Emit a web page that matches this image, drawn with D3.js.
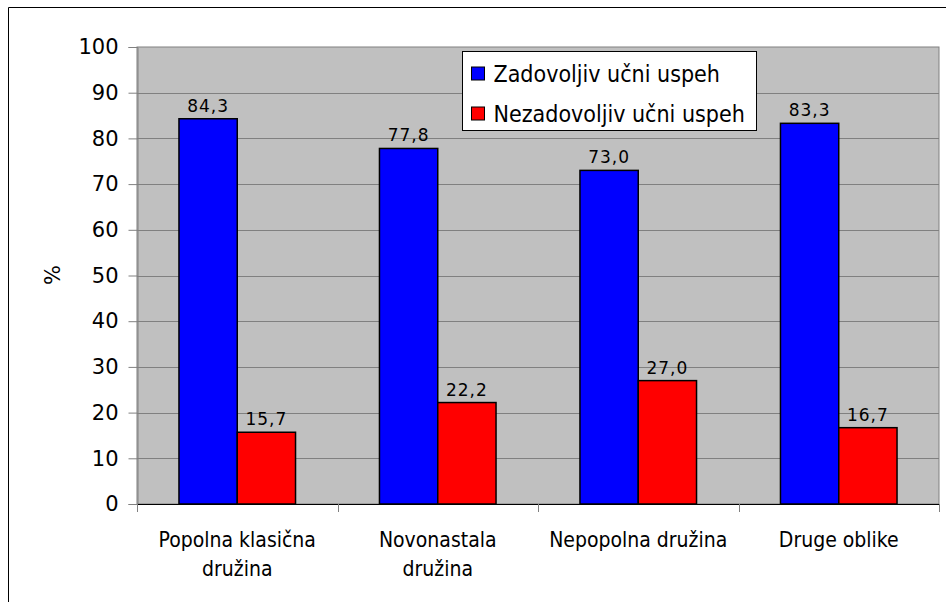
<!DOCTYPE html>
<html>
<head>
<meta charset="utf-8">
<script src="https://cdn.jsdelivr.net/npm/d3@7"></script>
<style>
  body { margin: 0; background: #fff; }
  text { fill: #000; }
</style>
</head>
<body>
<svg id="chart" width="946" height="602"></svg>
<script>
// chart data
const categories = [["Popolna klasična", "družina"], ["Novonastala", "družina"], ["Nepopolna družina"], ["Druge oblike"]];
const seriesNames = ["Zadovoljiv učni uspeh", "Nezadovoljiv učni uspeh"];
const satisfactory = [84.3, 77.8, 73.0, 83.3];
const unsatisfactory = [15.7, 22.2, 27.0, 16.7];
const yTicks = [0, 10, 20, 30, 40, 50, 60, 70, 80, 90, 100];
const colors = ["#0000ff", "#ff0000"];

const svg = d3.select("#chart");

// outer frame (only top and left edge show in the picture)
svg.append("path")
    .attr("d", "M8.5,602 L8.5,7.5 L946,7.5")
    .attr("fill", "none")
    .attr("stroke", "#000")
    .attr("stroke-width", 1);

const plot = { left: 137, top: 47, right: 939, bottom: 504 };

const x = d3.scaleBand()
    .domain(d3.range(categories.length))
    .range([plot.left, plot.right])
    .paddingInner(0)
    .paddingOuter(0);

const y = d3.scaleLinear()
    .domain([0, 100])
    .range([plot.bottom, plot.top]);

const xSub = d3.scaleBand()
    .domain([0, 1])
    .range([0, x.bandwidth()])
    .paddingOuter(0.72)
    .paddingInner(0);

// plot background
svg.append("rect")
    .attr("x", plot.left)
    .attr("y", plot.top)
    .attr("width", plot.right - plot.left)
    .attr("height", plot.bottom - plot.top)
    .attr("fill", "#c0c0c0")
    .attr("stroke", "#808080")
    .attr("stroke-width", 1);

// gridlines
svg.append("g")
    .selectAll("line")
    .data(yTicks.filter(d => d > 0 && d < 100))
    .enter().append("line")
    .attr("x1", plot.left)
    .attr("x2", plot.right)
    .attr("y1", d => Math.round(y(d)) + 0.5)
    .attr("y2", d => Math.round(y(d)) + 0.5)
    .attr("stroke", "#808080")
    .attr("stroke-width", 1);

// y axis
const yAxis = svg.append("g")
    .attr("transform", `translate(${plot.left + 0.5},0)`)
    .call(d3.axisLeft(y).tickValues(yTicks).tickSize(9).tickPadding(10).tickFormat(d3.format("d")));
yAxis.select(".domain").attr("stroke", "#808080");
yAxis.selectAll(".tick line").attr("stroke", "#808080");
yAxis.selectAll(".tick text")
    .attr("font-family", "DejaVu Sans")
    .attr("font-size", 21)
    .attr("fill", "#000");

// x axis line and category ticks
svg.append("line")
    .attr("x1", plot.left)
    .attr("x2", plot.right)
    .attr("y1", plot.bottom + 0.5)
    .attr("y2", plot.bottom + 0.5)
    .attr("stroke", "#000");

svg.append("g")
    .selectAll("line")
    .data(d3.range(categories.length + 1))
    .enter().append("line")
    .attr("x1", i => Math.round(plot.left + i * x.step()) + 0.5)
    .attr("x2", i => Math.round(plot.left + i * x.step()) + 0.5)
    .attr("y1", plot.bottom)
    .attr("y2", plot.bottom + 8)
    .attr("stroke", "#808080");

// category labels
const catLabel = svg.append("g")
    .selectAll("text")
    .data(categories)
    .enter().append("text")
    .attr("x", (d, i) => x(i) + x.bandwidth() / 2)
    .attr("y", 547)
    .attr("text-anchor", "middle")
    .attr("font-family", "DejaVu Sans Condensed, DejaVu Sans")
    .attr("font-size", 21);
catLabel.selectAll("tspan")
    .data(d => d)
    .enter().append("tspan")
    .attr("x", function () { return this.parentNode.getAttribute("x"); })
    .attr("dy", (d, i) => i === 0 ? 0 : 29)
    .text(d => d);

// bars
const series = [satisfactory, unsatisfactory];
series.forEach((values, s) => {
    const g = svg.append("g");
    g.selectAll("rect")
        .data(values)
        .enter().append("rect")
        .attr("x", (d, i) => x(i) + xSub(s))
        .attr("y", d => y(d))
        .attr("width", xSub.bandwidth())
        .attr("height", d => y(0) - y(d))
        .attr("fill", colors[s])
        .attr("stroke", "#000")
        .attr("stroke-width", 1.5);

    g.selectAll("text")
        .data(values)
        .enter().append("text")
        .attr("x", (d, i) => x(i) + xSub(s) + xSub.bandwidth() / 2)
        .attr("y", d => y(d) - 7)
        .attr("text-anchor", "middle")
        .attr("font-family", "DejaVu Sans")
        .attr("font-size", 17)
        .attr("letter-spacing", 1)
        .text(d => d.toFixed(1).replace(".", ","));
});

// y axis title
svg.append("text")
    .attr("transform", "translate(60,275) rotate(-90)")
    .attr("text-anchor", "middle")
    .attr("font-family", "DejaVu Sans")
    .attr("font-size", 21)
    .text("%");

// legend
const legend = svg.append("g").attr("transform", "translate(462.5,51.5)");
legend.append("rect")
    .attr("width", 294)
    .attr("height", 79)
    .attr("fill", "#fff")
    .attr("stroke", "#000");
const item = legend.selectAll("g")
    .data(seriesNames)
    .enter().append("g")
    .attr("transform", (d, i) => `translate(9,${22 + i * 40})`);
item.append("rect")
    .attr("x", 0)
    .attr("y", -6.5)
    .attr("width", 13)
    .attr("height", 13)
    .attr("fill", (d, i) => colors[i])
    .attr("stroke", "#000");
item.append("text")
    .attr("x", 22)
    .attr("y", 8)
    .attr("font-family", "DejaVu Sans Condensed, DejaVu Sans")
    .attr("font-size", 23)
    .text(d => d);
</script>
</body>
</html>
